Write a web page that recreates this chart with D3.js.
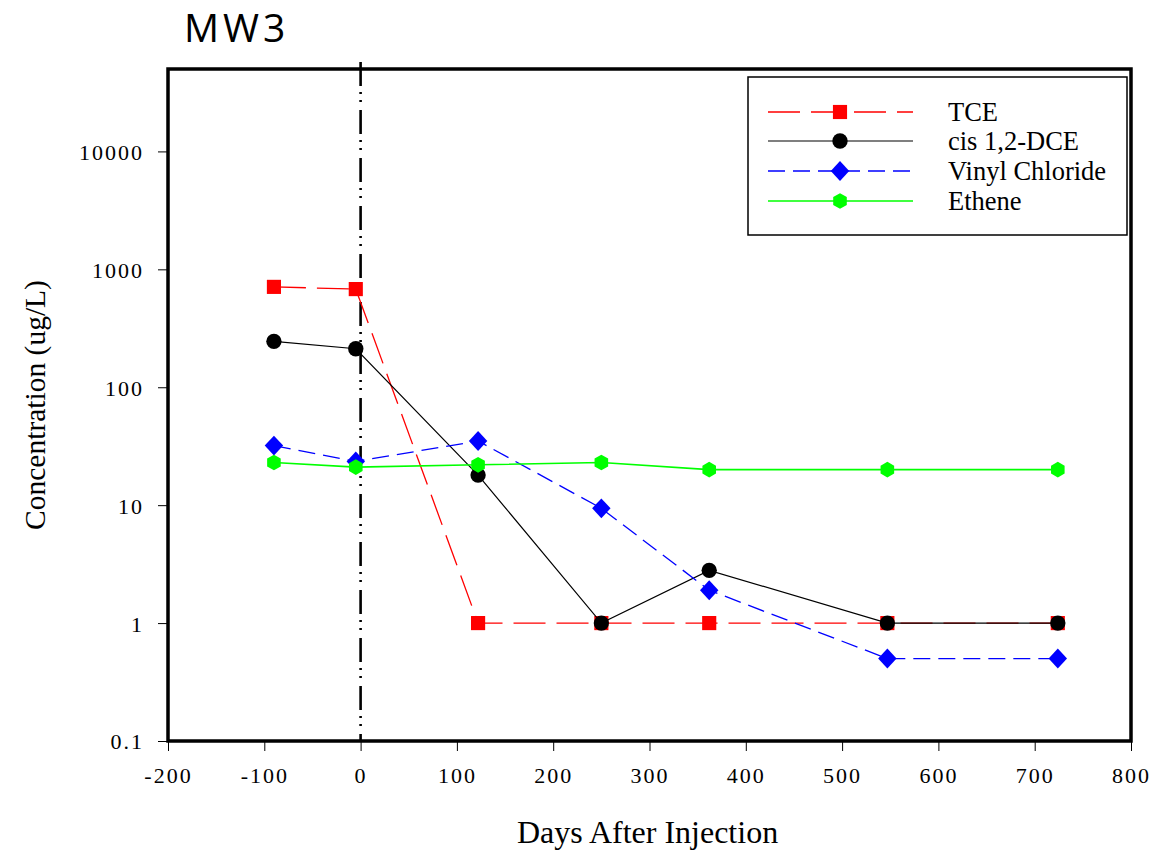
<!DOCTYPE html>
<html>
<head>
<meta charset="utf-8">
<script src="https://cdn.jsdelivr.net/npm/d3@7"></script>
<style>
  body { margin: 0; background: #fff; }
  svg { display: block; }
</style>
</head>
<body>
<script>
// sampling days (x) and concentrations (ug/L)
var days = [-90, -5, 122, 250, 362, 547, 724];
var tce = [710, 680, 1, 1, 1, 1, 1];
var cisDce = [245, 212, 18, 1, 2.8, 1, 1];
var vinylChloride = [32, 23.5, 35, 9.4, 1.9, 0.5, 0.5];
var ethene = [23, 21, 22, 23, 20, 20, 20];

var seriesNames = ["TCE", "cis 1,2-DCE", "Vinyl Chloride", "Ethene"];
var xTicks = [-200, -100, 0, 100, 200, 300, 400, 500, 600, 700, 800];
var yTicks = [0.1, 1, 10, 100, 1000, 10000];
var yTickLabels = ["0.1", "1", "10", "100", "1000", "10000"];

var width = 1173,
    height = 853;

var plot = { left: 168, right: 1131, top: 69, bottom: 741 };

var x = d3.scaleLinear()
    .domain([-200, 800])
    .range([plot.left, plot.right]);

var y = d3.scaleLog()
    .domain([0.1, 50000])
    .range([plot.bottom, plot.top]);

// custom marker shapes
var hexagon = {
    draw: function(context, size) {
        var r = Math.sqrt(size / 2.6);
        for (var i = 0; i < 6; i++) {
            var a = Math.PI / 2 + i * Math.PI / 3;
            var px = r * Math.cos(a), py = r * Math.sin(a);
            if (i === 0) context.moveTo(px, py); else context.lineTo(px, py);
        }
        context.closePath();
    }
};
var diamond = {
    draw: function(context, size) {
        var r = Math.sqrt(size / 2);
        context.moveTo(0, -r * 1.08);
        context.lineTo(r, 0);
        context.lineTo(0, r * 1.08);
        context.lineTo(-r, 0);
        context.closePath();
    }
};

var series = [
    { name: seriesNames[0], values: tce, color: "#ff0000", dash: "32,11", width: 1.3, symbol: d3.symbolSquare, size: 200 },
    { name: seriesNames[1], values: cisDce, color: "#000000", dash: null, width: 1.2, symbol: d3.symbolCircle, size: 185 },
    { name: seriesNames[2], values: vinylChloride, color: "#0000ff", dash: "17,8", width: 1.3, symbol: diamond, size: 170 },
    { name: seriesNames[3], values: ethene, color: "#00ff00", dash: null, width: 1.6, symbol: hexagon, size: 160 }
];

var svg = d3.select("body").append("svg")
    .attr("width", width)
    .attr("height", height);

// title
svg.append("text")
    .attr("x", 184)
    .attr("y", 42)
    .style("font-family", "'Open Sans', sans-serif")
    .style("font-size", "39px")
    .style("letter-spacing", "4px")
    .text("MW3");

// axes
var yAxis = d3.axisLeft(y)
    .tickValues(yTicks)
    .tickSize(10)
    .tickPadding(14)
    .tickFormat(function(d, i) { return yTickLabels[i]; });

var xAxis = d3.axisBottom(x)
    .tickValues(xTicks)
    .tickSize(10)
    .tickPadding(12)
    .tickFormat(function(d) { return String(d); });

var gy = svg.append("g")
    .attr("transform", "translate(" + plot.left + ",0)")
    .call(yAxis);

var gx = svg.append("g")
    .attr("transform", "translate(0," + plot.bottom + ")")
    .call(xAxis);

[gx, gy].forEach(function(g) {
    g.select(".domain").remove();
    g.selectAll(".tick line").attr("stroke", "#000").attr("stroke-width", 1);
    g.selectAll(".tick text")
        .attr("fill", "#000")
        .style("font-family", "'Liberation Serif', 'Times New Roman', serif")
        .style("font-size", "22px")
        .style("letter-spacing", "2px");
});
gy.selectAll(".tick text").attr("dy", "0.36em");
gx.selectAll(".tick text").attr("dy", "0.9em");

// axis titles
svg.append("text")
    .attr("transform", "translate(45," + ((plot.top + plot.bottom) / 2) + ") rotate(-90)")
    .attr("text-anchor", "middle")
    .style("font-family", "'Liberation Serif', 'Times New Roman', serif")
    .style("font-size", "29.5px")
    .text("Concentration (ug/L)");

svg.append("text")
    .attr("x", (plot.left + plot.right) / 2 - 2)
    .attr("y", 843)
    .attr("text-anchor", "middle")
    .style("font-family", "'Liberation Serif', 'Times New Roman', serif")
    .style("font-size", "32px")
    .text("Days After Injection");

// injection marker at day 0
svg.append("line")
    .attr("x1", x(0)).attr("x2", x(0))
    .attr("y1", plot.top - 7).attr("y2", plot.bottom)
    .attr("stroke", "#000")
    .attr("stroke-width", 2.6)
    .attr("stroke-dasharray", "24,6,2,6,2,8");

// data series
var line = d3.line()
    .x(function(d) { return x(d[0]); })
    .y(function(d) { return y(d[1]); });

series.forEach(function(s) {
    var pts = days.map(function(d, i) { return [d, s.values[i]]; });
    var g = svg.append("g");
    g.append("path")
        .datum(pts)
        .attr("d", line)
        .attr("fill", "none")
        .attr("stroke", s.color)
        .attr("stroke-width", s.width)
        .attr("stroke-dasharray", s.dash);
    g.selectAll("path.marker")
        .data(pts)
        .enter().append("path")
        .attr("class", "marker")
        .attr("transform", function(d) { return "translate(" + x(d[0]) + "," + y(d[1]) + ")"; })
        .attr("d", d3.symbol().type(s.symbol).size(s.size))
        .attr("fill", s.color);
});

// frame
svg.append("rect")
    .attr("x", plot.left)
    .attr("y", plot.top)
    .attr("width", plot.right - plot.left)
    .attr("height", plot.bottom - plot.top)
    .attr("fill", "none")
    .attr("stroke", "#000")
    .attr("stroke-width", 3.5);

// legend
var legend = svg.append("g");
legend.append("rect")
    .attr("x", 748)
    .attr("y", 77)
    .attr("width", 379)
    .attr("height", 158)
    .attr("fill", "#fff")
    .attr("stroke", "#000")
    .attr("stroke-width", 1.5);

var legendRows = [112, 141, 171, 201];
series.forEach(function(s, i) {
    var row = legend.append("g").attr("transform", "translate(0," + legendRows[i] + ")");
    row.append("line")
        .attr("x1", 768).attr("x2", 913)
        .attr("y1", 0).attr("y2", 0)
        .attr("stroke", s.color)
        .attr("stroke-width", s.width)
        .attr("stroke-dasharray", s.dash);
    row.append("path")
        .attr("transform", "translate(840,0)")
        .attr("d", d3.symbol().type(s.symbol).size(s.size))
        .attr("fill", s.color);
    row.append("text")
        .attr("x", 948)
        .attr("y", 0)
        .attr("dy", "0.33em")
        .style("font-family", "'Liberation Serif', 'Times New Roman', serif")
        .style("font-size", "26.5px")
        .text(s.name);
});
</script>
</body>
</html>
